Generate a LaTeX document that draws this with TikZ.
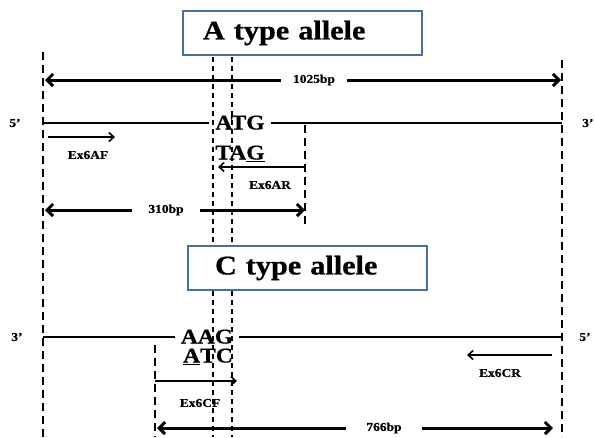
\documentclass[tikz,border=0pt]{standalone}
\usepackage{fontspec}
\setmainfont{Liberation Serif}[FakeStretch=1.12, BoldFeatures={FakeBold=0.7}]
\usetikzlibrary{arrows.meta,calc,positioning}

\definecolor{boxblue}{RGB}{65,113,156}

\tikzset{
  guide/.style={line width=2.6pt, dash pattern=on 8pt off 5pt},
  siteguide/.style={line width=1.4pt, dash pattern=on 5pt off 4pt},
  strand/.style={line width=2.6pt},
  span/.style={line width=3pt, -{Straight Barb[length=6pt,width=12pt,line width=3pt]}},
  primer/.style={line width=1.6pt, -{Straight Barb[length=5pt,width=9pt,line width=1.6pt]}},
  titlebox/.style={draw=boxblue, line width=1.5pt, fill=white, minimum height=44pt,
    align=left, font=\fontsize{27}{30}\selectfont\bfseries},
  codon/.style={font=\fontsize{21}{22}\selectfont\bfseries, inner xsep=6pt, inner ysep=0pt,
    text height=14pt, text depth=1pt},
  tag/.style={font=\fontsize{12}{14}\selectfont\bfseries, fill=white, inner xsep=12pt},
  small/.style={font=\fontsize{12}{14}\selectfont\bfseries}
}

\begin{document}
\begin{tikzpicture}[x=1pt, y=-1pt]
\useasboundingbox (0,0) rectangle (595,437);

% dashed guide lines
\coordinate (Ltop) at (43,52);
\coordinate (Lbot) at (43,437);
\coordinate (Rtop) at (562,60);
\coordinate (Rbot) at (562,437);
\draw [guide] (Ltop) -- (Lbot);
\draw [guide] (Rtop) -- (Rbot);

\coordinate (s1top) at (213,57);
\coordinate (s1bot) at (213,437);
\coordinate (s2top) at (232,57);
\coordinate (s2bot) at (232,437);
\draw [siteguide] (s1top) -- (s1bot);
\draw [siteguide] (s2top) -- (s2bot);

\coordinate (ARtop) at (305,125);
\coordinate (ARbot) at (305,228);
\draw [guide, line width=2.2pt] (ARtop) -- (ARbot);

\coordinate (CFtop) at (155,345);
\coordinate (CFbot) at (155,437);
\draw [guide, line width=2.2pt] (CFtop) -- (CFbot);

% A type allele
\node [titlebox, text width=199pt, inner xsep=20pt] (atitle) at (302.5,33) {A type allele};

\node [tag] (bpA) at (314,80) {1025bp};
\coordinate (bpAl) at (45,80);
\coordinate (bpAr) at (561,80);
\draw [span] (bpA.west) -- (bpAl);
\draw [span] (bpA.east) -- (bpAr);

\node [codon] (atg) at (240,123) {ATG};
\coordinate (a5) at (43,123);
\coordinate (a3) at (562,123);
\draw [strand] (a5) -- (atg.west);
\draw [strand] (atg.east) -- (a3);
\node [small] (a5lab) at (15,123) {5’};
\node [small, anchor=east] (a3lab) at (597,123) {3’};

\coordinate (AFs) at (48,137);
\coordinate (AFe) at (115,137);
\draw [primer] (AFs) -- (AFe);
\node [small] (AF) at (88,155) {Ex6AF};

\node [codon] (tag) at (240,153) {TA\underline{G}};

\coordinate (ARs) at (305,167);
\coordinate (ARe) at (218,167);
\draw [primer] (ARs) -- (ARe);
\node [small] (AR) at (270,185) {Ex6AR};

\node [tag, inner xsep=16pt] (bp310) at (166,210) {310bp};
\coordinate (bp310l) at (45,210);
\coordinate (bp310r) at (305,210);
\draw [span] (bp310.west) -- (bp310l);
\draw [span] (bp310.east) -- (bp310r);

% C type allele
\node [titlebox, text width=185pt, inner xsep=27pt] (ctitle) at (307.5,268) {C type allele};

\node [codon] (aag) at (207,337) {AAG};
\coordinate (c3) at (43,337);
\coordinate (c5) at (562,337);
\draw [strand] (c3) -- (aag.west);
\draw [strand] (aag.east) -- (c5);
\node [small] (c3lab) at (17,337) {3’};
\node [small] (c5lab) at (585,337) {5’};

\node [codon] (atc) at (208,356) {\underline{A}TC};

\coordinate (CFs) at (155,381);
\coordinate (CFe) at (237,381);
\draw [primer, line width=1.3pt] (CFs) -- (CFe);
\node [small] (CF) at (200,403) {Ex6CF};

\coordinate (CRs) at (552,355);
\coordinate (CRe) at (467,355);
\draw [primer] (CRs) -- (CRe);
\node [small] (CR) at (500,373) {Ex6CR};

\node [tag, inner xsep=20pt] (bp766) at (384,428) {766bp};
\coordinate (bp766l) at (157,428);
\coordinate (bp766r) at (553,428);
\draw [span] (bp766.west) -- (bp766l);
\draw [span] (bp766.east) -- (bp766r);
\end{tikzpicture}
\end{document}
